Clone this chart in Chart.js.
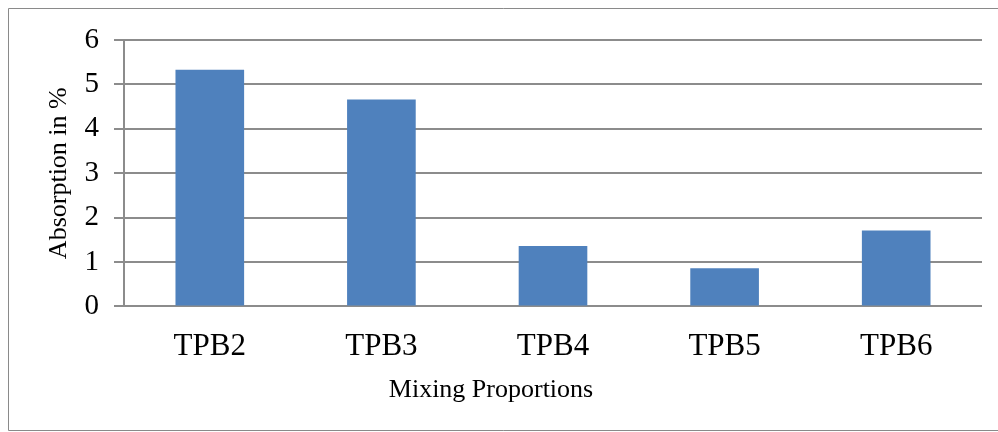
<!DOCTYPE html>
<html>
<head>
<meta charset="utf-8">
<title>Absorption by mixing proportion</title>
<script src="https://cdn.jsdelivr.net/npm/chart.js@4/dist/chart.umd.min.js"></script>
<style>
  html, body { margin: 0; padding: 0; background: #ffffff; }
  canvas { display: block; }
</style>
</head>
<body>
<canvas id="chart" width="998" height="432"></canvas>
<script>
// Mixing proportions and their water absorption (%)
const categories = ['TPB2', 'TPB3', 'TPB4', 'TPB5', 'TPB6'];
const absorption = [5.33, 4.66, 1.36, 0.86, 1.71];
const yTicks = [0, 1, 2, 3, 4, 5, 6];

const SERIF = '"Liberation Serif", "Times New Roman", serif';
const GRID = '#8c8c8c';

// Thin frame around the whole chart
const framePlugin = {
  id: 'frame',
  beforeDraw(chart) {
    const ctx = chart.ctx;
    ctx.save();
    ctx.fillStyle = '#ffffff';
    ctx.fillRect(0, 0, chart.width, chart.height);
    ctx.strokeStyle = '#8a8a8a';
    ctx.lineWidth = 1;
    ctx.beginPath();
    ctx.moveTo(chart.width + 2, 8.5);
    ctx.lineTo(8.5, 8.5);
    ctx.lineTo(8.5, 430.5);
    ctx.lineTo(chart.width + 2, 430.5);
    ctx.stroke();
    ctx.restore();
  }
};

new Chart(document.getElementById('chart'), {
  type: 'bar',
  data: {
    labels: categories,
    datasets: [{
      label: 'Absorption in %',
      data: absorption,
      backgroundColor: '#4f81bd',
      borderWidth: 0,
      categoryPercentage: 1.0,
      barPercentage: 0.4
    }]
  },
  options: {
    responsive: false,
    animation: false,
    devicePixelRatio: 1,
    layout: { padding: { top: 40, right: 16, bottom: 0, left: 0 } },
    plugins: {
      legend: { display: false },
      tooltip: { enabled: false },
      // x-axis caption, centred across the full chart width
      title: {
        display: true,
        position: 'bottom',
        text: 'Mixing Proportions',
        color: '#000000',
        font: { family: SERIF, size: 26, weight: 'normal' },
        padding: { top: 0, bottom: 26 }
      }
    },
    scales: {
      x: {
        grid: { display: false, drawTicks: false },
        border: { display: false },
        ticks: {
          color: '#000000',
          font: { family: SERIF, size: 31 },
          padding: 22,
          maxRotation: 0
        },
        afterFit(scale) { scale.height = 68.4; }
      },
      y: {
        min: 0,
        max: 6,
        grid: {
          color: GRID,
          lineWidth: 2,
          drawTicks: true,
          tickLength: 10,
          tickColor: GRID
        },
        border: { display: true, color: GRID, width: 2 },
        ticks: {
          color: '#000000',
          font: { family: SERIF, size: 29 },
          padding: 15,
          stepSize: 1,
          autoSkip: false,
          callback: (v) => yTicks.includes(v) ? String(v) : ''
        },
        title: {
          display: true,
          text: 'Absorption in %',
          color: '#000000',
          font: { family: SERIF, size: 26 },
          padding: { top: 44, bottom: 0 }
        },
        afterFit(scale) { scale.width = 124; }
      }
    }
  },
  plugins: [framePlugin]
});
</script>
</body>
</html>
